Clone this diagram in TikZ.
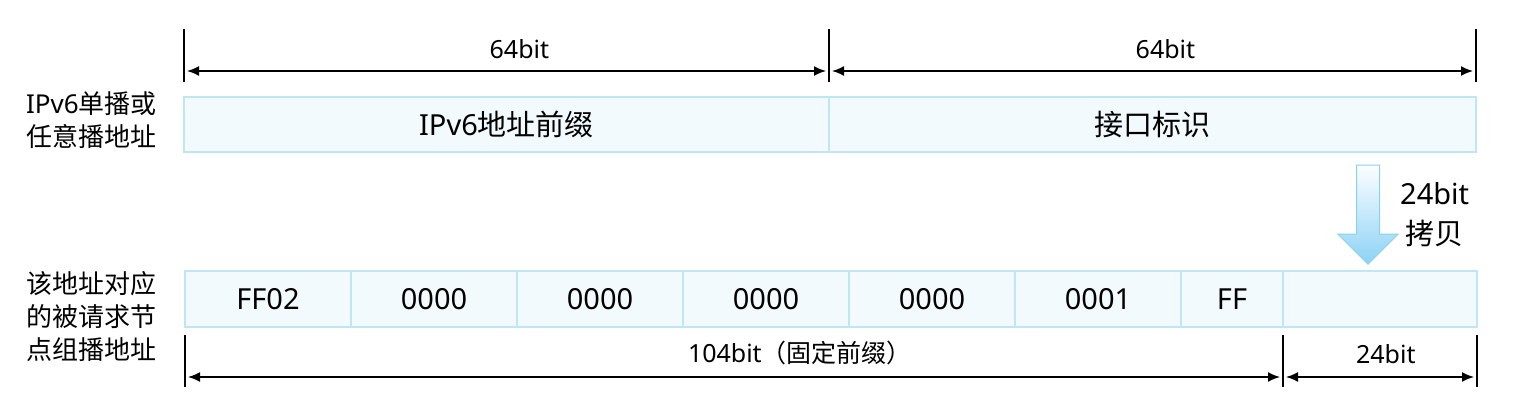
\documentclass[tikz,border=0pt]{standalone}
\usepackage{fontspec}
\setmainfont{Noto Sans}
\newfontfamily\cjk{Noto Sans CJK SC}
\definecolor{cellfill}{RGB}{242,250,253}
\definecolor{cellline}{RGB}{190,230,245}
\definecolor{copytop}{RGB}{252,254,255}
\definecolor{copybot}{RGB}{140,210,245}
\definecolor{copyline}{RGB}{140,208,240}
\usetikzlibrary{positioning, shapes.arrows, calc, arrows.meta}

\begin{document}
\begin{tikzpicture}[x=1pt, y=-1pt,
		cell/.style={draw=cellline, line width=1.5pt, fill=cellfill, outer sep=0pt, inner sep=0pt, minimum height=55pt, font=\fontsize{29}{34}\selectfont},
		bcell/.style={cell, minimum height=56pt, minimum width=166pt},
		rowlbl/.style={align=left, inner sep=0pt, font=\cjk\fontsize{26}{33}\selectfont},
		tick/.style={line width=1.8pt},
		dim/.style={line width=1.7pt, {Latex[length=12pt,width=10pt]}-{Latex[length=12pt,width=10pt]}, shorten <=3pt, shorten >=3pt},
		dimtxt/.style={anchor=base, inner sep=0pt, font=\fontsize{25}{30}\selectfont},
		copyarrow/.style={single arrow, shape border rotate=270, draw=copyline, line width=1pt, top color=copytop, bottom color=copybot, inner sep=11pt, single arrow head extend=18.5pt, minimum height=99pt}
		]
		\useasboundingbox (0,0) rectangle (1519,414);
		
		% unicast / anycast address
		\node[cell, minimum width=645pt, anchor=north west] (pre) at (184,97) {IPv6{\cjk 地址前缀}};
		\node[cell, minimum width=647pt, right=0pt of pre] (iid) {\cjk 接口标识};
		\node[rowlbl, left=27pt of pre, yshift=4pt] (lbl1) {{\rmfamily IPv6}单播或\\任意播地址};
		
		\foreach \p in {pre.north west, pre.north east, iid.north east}{
			\draw[tick] ($(\p)+(0,-15)$) -- ++(0,-53);
		}
		\draw[dim] ($(pre.north west)+(0,-26)$) -- node[dimtxt, pos=.52, yshift=12pt] {64bit} ($(pre.north east)+(0,-26)$);
		\draw[dim] ($(iid.north west)+(0,-26)$) -- node[dimtxt, pos=.52, yshift=12pt] {64bit} ($(iid.north east)+(0,-26)$);
		
		% solicited-node multicast address
		\node[bcell, anchor=north west] (c1) at (185,271) {FF02};
		\node[bcell, right=0pt of c1] (c2) {0000};
		\node[bcell, right=0pt of c2] (c3) {0000};
		\node[bcell, right=0pt of c3] (c4) {0000};
		\node[bcell, right=0pt of c4] (c5) {0000};
		\node[bcell, right=0pt of c5] (c6) {0001};
		\node[bcell, minimum width=102pt, right=0pt of c6] (c7) {FF};
		\node[bcell, minimum width=194pt, right=0pt of c7] (c8) {};
		\node[rowlbl, left=28pt of c1.north west, anchor=north east] (lbl2) {该地址对应\\的被请求节\\点组播地址};
		
		\foreach \p in {c1.south west, c7.south east, c8.south east}{
			\draw[tick] ($(\p)+(0,8)$) -- ++(0,52);
		}
		\draw[dim] ($(c1.south west)+(0,50)$) -- node[dimtxt, pos=.56, yshift=15pt] {104bit{\cjk （固定前缀）}} ($(c7.south east)+(0,50)$);
		\draw[dim] ($(c8.south west)+(0,50)$) -- node[dimtxt, pos=.53, yshift=14pt] {24bit} ($(c8.south east)+(0,50)$);
		
		% 24bit copy
		\node[copyarrow] (copy) at (1368,209) {};
		\node[right=20pt of copy, yshift=-6pt, align=center, inner sep=0pt, font=\fontsize{29}{40}\selectfont] (copylbl) {24bit\\{\cjk 拷贝}};
	\end{tikzpicture}
\end{document}
